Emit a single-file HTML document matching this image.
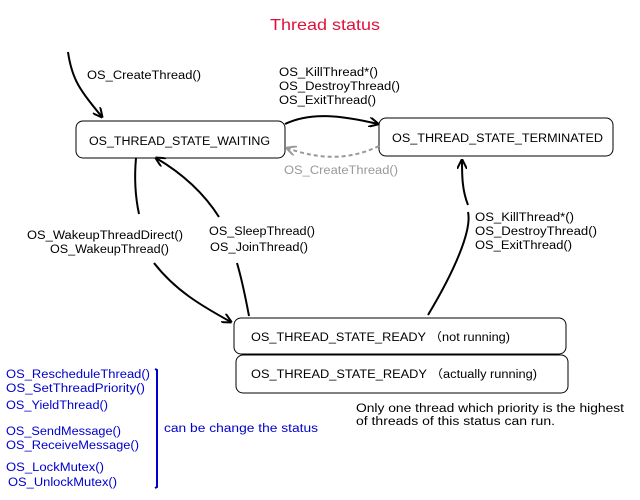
<!DOCTYPE html>
<html><head><meta charset="utf-8"><style>
body{margin:0;background:#fff;}
svg{display:block;font-family:"Liberation Sans","Noto Sans CJK JP",sans-serif;}
</style></head><body>
<svg width="640" height="500" viewBox="0 0 640 500" xmlns="http://www.w3.org/2000/svg">
<defs>
<marker id="a" markerWidth="10" markerHeight="10" refX="9" refY="5" orient="auto" markerUnits="userSpaceOnUse"><path d="M0,0 L10,5 L0,10" fill="none" stroke="#000" stroke-width="2"/></marker>
<marker id="g" markerWidth="10" markerHeight="10" refX="9" refY="5" orient="auto" markerUnits="userSpaceOnUse"><path d="M0,0 L10,5 L0,10" fill="none" stroke="#999" stroke-width="2"/></marker>
</defs>
<text x="270" y="30" font-size="16" fill="#e0103a" textLength="110" lengthAdjust="spacingAndGlyphs">Thread status</text>
<g fill="none" stroke="#000" stroke-width="1">
<rect x="76" y="121" width="209" height="37" rx="7"/>
<rect x="379" y="118" width="234" height="38" rx="7"/>
<rect x="234" y="318" width="332" height="36" rx="7"/>
<rect x="236" y="355" width="332" height="38" rx="7"/>
</g>
<g font-size="11.5" fill="#000" lengthAdjust="spacingAndGlyphs">
<text x="89" y="145" textLength="181" lengthAdjust="spacingAndGlyphs">OS_THREAD_STATE_WAITING</text>
<text x="392" y="142" textLength="211" lengthAdjust="spacingAndGlyphs">OS_THREAD_STATE_TERMINATED</text>
<text x="251" y="341" textLength="259" lengthAdjust="spacingAndGlyphs">OS_THREAD_STATE_READY （not running)</text>
<text x="251" y="378" textLength="286" lengthAdjust="spacingAndGlyphs">OS_THREAD_STATE_READY （actually running)</text>
<text x="87" y="79" textLength="114" lengthAdjust="spacingAndGlyphs">OS_CreateThread()</text>
<text x="279" y="76" textLength="99" lengthAdjust="spacingAndGlyphs">OS_KillThread*()</text>
<text x="279" y="90" textLength="121" lengthAdjust="spacingAndGlyphs">OS_DestroyThread()</text>
<text x="279" y="104" textLength="97" lengthAdjust="spacingAndGlyphs">OS_ExitThread()</text>
<text x="475" y="221" textLength="99" lengthAdjust="spacingAndGlyphs">OS_KillThread*()</text>
<text x="475" y="235" textLength="122" lengthAdjust="spacingAndGlyphs">OS_DestroyThread()</text>
<text x="475" y="249" textLength="97" lengthAdjust="spacingAndGlyphs">OS_ExitThread()</text>
<text x="27" y="239" textLength="156" lengthAdjust="spacingAndGlyphs">OS_WakeupThreadDirect()</text>
<text x="50" y="253" textLength="119" lengthAdjust="spacingAndGlyphs">OS_WakeupThread()</text>
<text x="209" y="235" textLength="106" lengthAdjust="spacingAndGlyphs">OS_SleepThread()</text>
<text x="210" y="251" textLength="98" lengthAdjust="spacingAndGlyphs">OS_JoinThread()</text>
<text x="356" y="412" textLength="268" lengthAdjust="spacingAndGlyphs">Only one thread which priority is the highest</text>
<text x="356" y="425" textLength="199" lengthAdjust="spacingAndGlyphs">of threads of this status can run.</text>
</g>
<text x="284" y="174" font-size="11.5" fill="#999" textLength="114" lengthAdjust="spacingAndGlyphs">OS_CreateThread()</text>
<g fill="none" stroke="#000" stroke-width="2">
<path d="M68,52 C72,80 80,90 102,117" marker-end="url(#a)"/>
<path d="M285,124 C310,112 340,115 378,124" marker-end="url(#a)"/>
<path d="M136,158 C134,180 136,200 139,214"/>
<path d="M154,263 C175,290 200,305 231,322" marker-end="url(#a)"/>
<path d="M219,217 C205,195 185,175 156,158" marker-end="url(#a)"/>
<path d="M237,263 C242,280 246,300 249,316"/>
<path d="M428,315 C455,270 472,230 468,212"/>
<path d="M468,205 C462,190 462,175 462,160" marker-end="url(#a)"/>
</g>
<path d="M379,146 C350,160 320,160 287,148" fill="none" stroke="#999" stroke-width="2" stroke-dasharray="4,3" marker-end="url(#g)"/>
<g font-size="11.5" fill="#0000cc">
<text x="6" y="378" textLength="144" lengthAdjust="spacingAndGlyphs">OS_RescheduleThread()</text>
<text x="6" y="392" textLength="139" lengthAdjust="spacingAndGlyphs">OS_SetThreadPriority()</text>
<text x="6" y="409" textLength="102" lengthAdjust="spacingAndGlyphs">OS_YieldThread()</text>
<text x="6" y="435" textLength="115" lengthAdjust="spacingAndGlyphs">OS_SendMessage()</text>
<text x="6" y="449" textLength="133" lengthAdjust="spacingAndGlyphs">OS_ReceiveMessage()</text>
<text x="6" y="471" textLength="98" lengthAdjust="spacingAndGlyphs">OS_LockMutex()</text>
<text x="8" y="486" textLength="109" lengthAdjust="spacingAndGlyphs">OS_UnlockMutex()</text>
<text x="164" y="432" textLength="154" lengthAdjust="spacingAndGlyphs">can be change the status</text>
</g>
<path d="M155,369 L157,370 L157,487 L155,488" fill="none" stroke="#0000cc" stroke-width="2"/>
</svg>
</body></html>
